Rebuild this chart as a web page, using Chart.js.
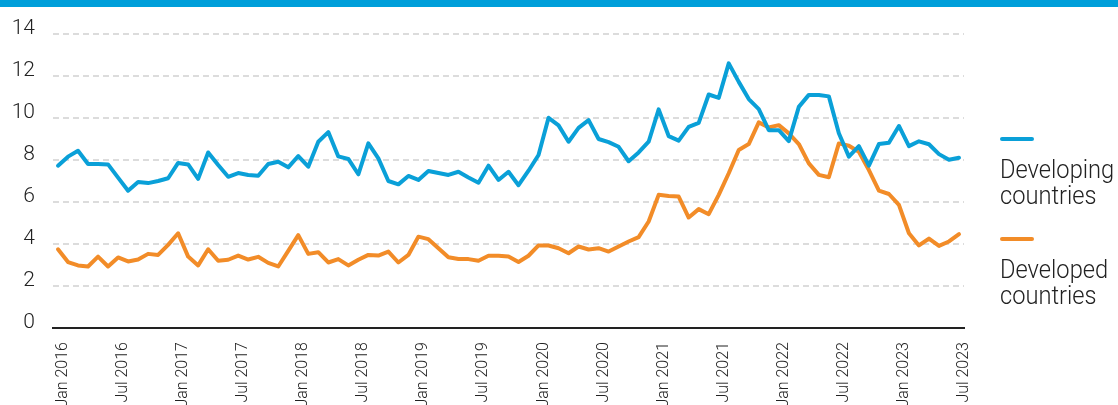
<!DOCTYPE html>
<html>
<head>
<meta charset="utf-8">
<script src="https://cdn.jsdelivr.net/npm/chart.js@4.4.0/dist/chart.umd.min.js"></script>
<style>
  body { margin: 0; background: #fff; }
  #wrap { position: relative; width: 1118px; height: 405px; overflow: hidden; }
  #band { position: absolute; left: 0; top: 0; width: 1118px; height: 7px; background: #009fda; }
  .mark { position: absolute; left: 1000px; width: 34px; height: 4px; border-radius: 2px; }
  .key { position: absolute; left: 1000px; font-family: Roboto, sans-serif; font-weight: 300;
         font-size: 26px; line-height: 26px; color: #222; white-space: nowrap;
         transform: scaleX(0.91); transform-origin: left top; }
</style>
</head>
<body>
<div id="wrap">
  <canvas id="myChart" width="1118" height="405"></canvas>
  <div id="band"></div>
  <div class="mark" style="top:137px; background:#0aa0d8"></div>
  <div class="key" style="top:156px">Developing<br>countries</div>
  <div class="mark" style="top:237px; background:#f28c28"></div>
  <div class="key" style="top:256px">Developed<br>countries</div>
</div>
<script>
const monthNames = ['Jan','Feb','Mar','Apr','May','Jun','Jul','Aug','Sep','Oct','Nov','Dec'];
const years = [2016, 2017, 2018, 2019, 2020, 2021, 2022, 2023];

// Jan 2016 .. Jul 2023, monthly
let labels = [];
years.forEach(y => {
    monthNames.forEach(m => {
        if (labels.length < 91) labels.push(m + ' ' + y);
    });
});

const developing = [
    7.73, 8.16, 8.44, 7.81, 7.81, 7.79, 7.16, 6.54, 6.95, 6.90, 7.00, 7.13,
    7.86, 7.79, 7.10, 8.36, 7.76, 7.20, 7.38, 7.29, 7.25, 7.81, 7.92, 7.65,
    8.19, 7.68, 8.87, 9.33, 8.17, 8.05, 7.32, 8.79, 8.08, 7.00, 6.84, 7.24,
    7.05, 7.48, 7.38, 7.29, 7.44, 7.17, 6.92, 7.73, 7.05, 7.44, 6.80, 7.49,
    8.24, 10.01, 9.65, 8.87, 9.53, 9.90, 9.00, 8.85, 8.63, 7.94, 8.36, 8.87,
    10.41, 9.14, 8.92, 9.58, 9.77, 11.12, 10.96, 12.60, 11.72, 10.90, 10.42, 9.42,
    9.42, 8.90, 10.53, 11.10, 11.10, 11.03, 9.27, 8.16, 8.66, 7.73, 8.76, 8.82,
    9.62, 8.66, 8.89, 8.75, 8.28, 8.01, 8.11
];

const developed = [
    3.75, 3.14, 2.98, 2.93, 3.40, 2.93, 3.36, 3.17, 3.26, 3.53, 3.48, 3.96,
    4.51, 3.40, 2.98, 3.75, 3.20, 3.25, 3.45, 3.26, 3.39, 3.10, 2.93, 3.67,
    4.42, 3.53, 3.61, 3.12, 3.28, 2.98, 3.25, 3.48, 3.45, 3.64, 3.12, 3.48,
    4.35, 4.23, 3.80, 3.37, 3.29, 3.28, 3.20, 3.44, 3.44, 3.40, 3.14, 3.44,
    3.93, 3.93, 3.80, 3.56, 3.88, 3.74, 3.80, 3.64, 3.88, 4.12, 4.33, 5.07,
    6.34, 6.29, 6.26, 5.26, 5.66, 5.42, 6.34, 7.37, 8.48, 8.76, 9.79, 9.55,
    9.66, 9.27, 8.76, 7.84, 7.29, 7.18, 8.79, 8.68, 8.39, 7.52, 6.54, 6.38,
    5.86, 4.51, 3.93, 4.26, 3.91, 4.12, 4.47
];

const yTicks = [0, 2, 4, 6, 8, 10, 12, 14];

const ctx = document.getElementById('myChart').getContext('2d');
new Chart(ctx, {
    type: 'line',
    data: {
        labels: labels,
        datasets: [{
            label: 'Developing countries',
            data: developing,
            borderColor: '#0aa0d8',
            borderWidth: 4,
            pointRadius: 0,
            borderJoinStyle: 'round',
            borderCapStyle: 'round',
            tension: 0
        }, {
            label: 'Developed countries',
            data: developed,
            borderColor: '#f28c28',
            borderWidth: 4,
            pointRadius: 0,
            borderJoinStyle: 'round',
            borderCapStyle: 'round',
            tension: 0
        }]
    },
    options: {
        responsive: false,
        animation: false,
        layout: {
            padding: { top: 34, right: 154, bottom: 0, left: 0 }
        },
        plugins: {
            legend: { display: false },
            tooltip: { enabled: false }
        },
        scales: {
            x: {
                offset: true,
                grid: { display: false, drawTicks: false },
                border: { display: true, color: '#222', width: 2 },
                ticks: {
                    autoSkip: false,
                    maxRotation: 90,
                    minRotation: 90,
                    padding: 14,
                    labelOffset: 5,
                    color: '#222',
                    font: { family: 'Roboto', size: 16, weight: '300' },
                    callback: function(value, i) {
                        return i % 6 === 0 ? this.getLabelForValue(value) : '';
                    }
                },
                afterFit: function(scale) { scale.height = 77; }
            },
            y: {
                min: 0,
                max: 14,
                afterBuildTicks: function(scale) {
                    scale.ticks = yTicks.map(v => ({ value: v }));
                },
                grid: { color: '#dcdcdc', lineWidth: 2, drawTicks: false },
                border: { display: false, dash: [6, 4] },
                ticks: {
                    padding: 18,
                    labelOffset: -5,
                    color: '#222',
                    font: { family: 'Roboto', size: 21, weight: '300' }
                },
                afterFit: function(scale) { scale.width = 53; }
            }
        }
    }
});
</script>
</body>
</html>
